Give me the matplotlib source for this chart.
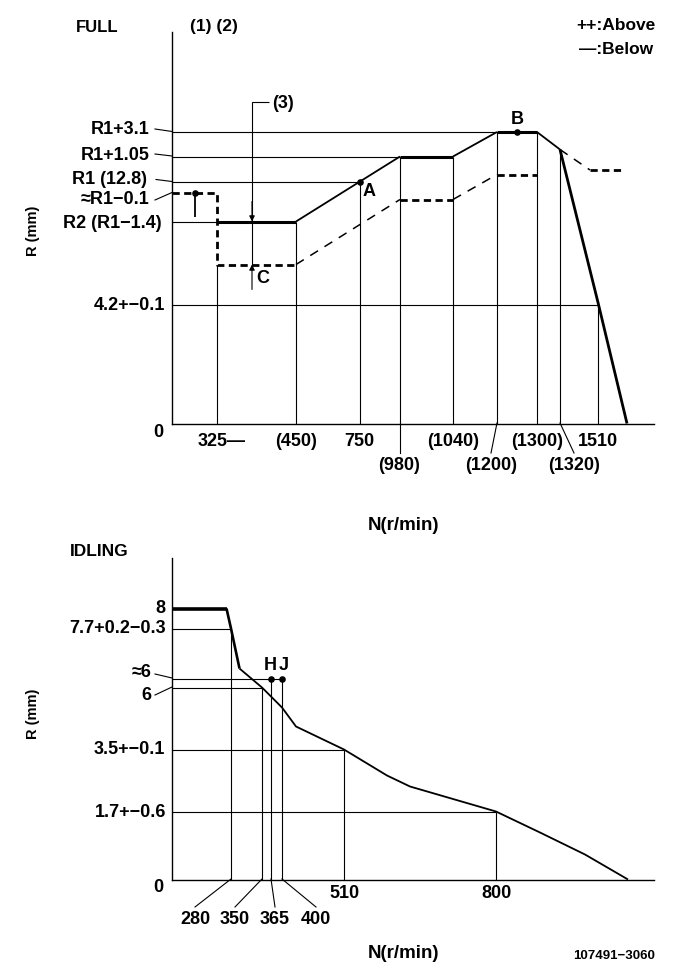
import matplotlib
matplotlib.use("Agg")
import matplotlib.pyplot as plt

W, H = 681, 979
plt.rcParams["font.family"] = ["Liberation Sans", "DejaVu Sans"]
plt.rcParams["font.weight"] = "bold"

# ---- FULL chart: the drawing's axes are not to scale, so values are read as
# distances from the origin on the drawing
full_flat1_x = [45, 124]
full_flat1_y = [202, 202]
full_rise1_x = [124, 228]
full_rise1_y = [202, 267]
full_flat2_x = [228, 281]
full_flat2_y = [267, 267]
full_rise2_x = [281, 325]
full_rise2_y = [267, 291.5]
full_flat3_x = [325, 365]
full_flat3_y = [291.5, 291.5]
full_fall1_x = [365, 388]
full_fall1_y = [291.5, 274]
full_drop_x = [388, 426.5, 455]
full_drop_y = [274, 119, 0]
low_heavy1_x = [0, 45, 45, 124]
low_heavy1_y = [230.3, 230.3, 159, 159]
low_rise1_x = [124, 228]
low_rise1_y = [159, 224]
low_heavy2_x = [228, 281]
low_heavy2_y = [224, 224]
low_rise2_x = [281, 325]
low_rise2_y = [224, 249]
low_heavy3_x = [325, 365]
low_heavy3_y = [249, 249]
low_fall_x = [388, 418]
low_fall_y = [274, 253.5]
low_heavy4_x = [418, 453]
low_heavy4_y = [253.5, 253.5]
full_h_refs = [(291.5, 365), (267, 228), (241.5, 187.5), (202, 45), (119, 426.5)]
full_v_refs = [(45, 159), (124, 202), (187.5, 241.5), (228, 267), (281, 267),
               (325, 291.5), (365, 291.5), (388, 274), (426.5, 119)]
full_points_x = [23, 187.5, 345]
full_points_y = [230.3, 241.5, 291.5]

# ---- IDLING chart
idle_flat_x = [0, 54.5]
idle_flat_y = [271, 271]
idle_steep_x = [54.5, 59, 67.5]
idle_steep_y = [271, 251, 211]
idle_curve_x = [67.5, 90, 110, 124, 172, 215, 238, 324, 368, 413, 456]
idle_curve_y = [211, 192, 172, 153, 130, 104, 93, 68, 47, 25, 0]
idle_h_refs = [(251, 59), (201, 110), (192, 90), (130, 172), (68, 324)]
idle_v_refs = [(59, 251), (90, 192), (99, 201), (110, 201), (172, 130), (324, 68)]
idle_points_x = [99, 110]
idle_points_y = [201, 201]

fig = plt.figure(figsize=(W / 100, H / 100), dpi=100)


def axes_at(top, bottom):
    ax = fig.add_axes([172 / W, 1 - bottom / H, 482 / W, (bottom - top) / H])
    ax.set_xlim(0, 482)
    ax.set_ylim(0, bottom - top)
    ax.set_xticks([])
    ax.set_yticks([])
    ax.patch.set_alpha(0)
    for s in ("top", "right"):
        ax.spines[s].set_visible(False)
    for s in ("left", "bottom"):
        ax.spines[s].set_linewidth(1.0)
    return ax


def T(x, y, s, ha="center", size=13, **kw):
    fig.text(x / W, 1 - y / H, s, ha=ha, va="center", fontsize=size, color="black", **kw)


def L(x0, y0, x1, y1, lw=0.8):
    fig.add_artist(plt.Line2D([x0 / W, x1 / W], [1 - y0 / H, 1 - y1 / H], color="black", lw=lw))


ax1 = axes_at(32.5, 424.5)
ax2 = axes_at(558.5, 880.5)
K = dict(color="black", solid_capstyle="butt", solid_joinstyle="miter")

for y, x in full_h_refs:
    ax1.plot([0, x], [y, y], lw=0.8, **K)
for x, y in full_v_refs:
    ax1.plot([x, x], [0, y], lw=0.8, **K)
for xs, ys in [(full_flat1_x, full_flat1_y), (full_flat2_x, full_flat2_y), (full_flat3_x, full_flat3_y)]:
    ax1.plot(xs, ys, lw=2.2, **K)
for xs, ys in [(full_rise1_x, full_rise1_y), (full_rise2_x, full_rise2_y), (full_fall1_x, full_fall1_y)]:
    ax1.plot(xs, ys, lw=1.3, **K)
ax1.plot(full_drop_x, full_drop_y, lw=2.0, **K)
for xs, ys in [(low_heavy1_x, low_heavy1_y), (low_heavy2_x, low_heavy2_y), (low_heavy3_x, low_heavy3_y), (low_heavy4_x, low_heavy4_y)]:
    ax1.plot(xs, ys, lw=2.0, color="black", linestyle=(0, (2.6, 1.6)))
for xs, ys in [(low_rise1_x, low_rise1_y), (low_rise2_x, low_rise2_y), (low_fall_x, low_fall_y)]:
    ax1.plot(xs, ys, lw=1.1, color="black", linestyle=(0, (6, 5)))
ax1.scatter(full_points_x, full_points_y, s=14, color="black", zorder=5)
ax1.plot([23, 23], [230.3, 207], lw=1.3, **K)

# (3) and C arrows
ax1.plot([97, 80, 80], [322, 322, 159], lw=0.8, **K)
ax1.annotate("", xy=(80, 202), xytext=(80, 222),
             arrowprops=dict(arrowstyle="-|>", color="black", lw=0.8, mutation_scale=8, shrinkA=0, shrinkB=0))
ax1.annotate("", xy=(80, 159), xytext=(80, 134),
             arrowprops=dict(arrowstyle="-|>", color="black", lw=0.8, mutation_scale=8, shrinkA=0, shrinkB=0))

for y, x in idle_h_refs:
    ax2.plot([0, x], [y, y], lw=0.8, **K)
for x, y in idle_v_refs:
    ax2.plot([x, x], [0, y], lw=0.8, **K)
ax2.plot(idle_flat_x, idle_flat_y, lw=2.6, **K)
ax2.plot(idle_steep_x, idle_steep_y, lw=1.9, **K)
ax2.plot(idle_curve_x, idle_curve_y, lw=1.3, **K)
ax2.scatter(idle_points_x, idle_points_y, s=14, color="black", zorder=5)

# Leaders
for seg in [(155, 130, 172, 132.5), (155, 155, 172, 157), (156, 180.5, 172, 182.5),
            (155, 201, 172, 193.5), (400, 424, 400, 454), (497, 424, 491, 454),
            (560, 424, 574, 454), (155, 675, 172, 679), (155, 696, 172, 688),
            (231, 880, 195, 908), (262, 880, 235, 908), (271, 880, 275, 908),
            (282, 880, 316, 908)]:
    L(*seg)

# Text: top chart
T(97, 27, "FULL", size=12)
T(214, 27, "(1) (2)", size=12.5)
T(616, 26, "++:Above", size=12.5)
T(616, 49, "—:Below", size=12.5)
T(283, 103, "(3)")
T(517, 119, "B")
T(369, 192, "A")
T(263, 279, "C")
for s, x, y in [("R1+3.1", 149, 130), ("R1+1.05", 150, 155), ("R1 (12.8)", 147, 179),
                ("≈R1−0.1", 149, 200), ("R2 (R1−1.4)", 162, 223), ("4.2+−0.1", 165, 305)]:
    T(x, y, s, ha="right")
T(163, 433, "0", ha="right")
for s, x, y in [("325—", 222, 441), ("(450)", 296, 441), ("750", 359, 441), ("(980)", 399, 466),
                ("(1040)", 453, 441), ("(1200)", 491, 466), ("(1300)", 537, 441),
                ("(1320)", 574, 466), ("1510", 598, 441)]:
    T(x, y, s)
T(33, 231, "R (mm)", rotation=90, size=10.5)
T(403, 525, "N(r/min)", size=13.5)

# Text: bottom chart
T(99, 552, "IDLING", size=12.5)
for s, x, y in [("8", 165, 609), ("7.7+0.2−0.3", 166, 629), ("≈6", 151, 673),
                ("6", 151, 696), ("3.5+−0.1", 165, 750), ("1.7+−0.6", 166, 813)]:
    T(x, y, s, ha="right")
T(163, 888, "0", ha="right")
T(270, 666, "H")
T(284, 666, "J")
for s, x, y in [("510", 344, 894), ("800", 496, 894), ("280", 195, 920), ("350", 235, 920),
                ("365", 275, 920), ("400", 316, 920)]:
    T(x, y, s)
T(33, 714, "R (mm)", rotation=90, size=10.5)
T(403, 954, "N(r/min)", size=13.5)
T(655, 956, "107491−3060", ha="right", size=9.5)

fig.savefig("out.png", dpi=100)
